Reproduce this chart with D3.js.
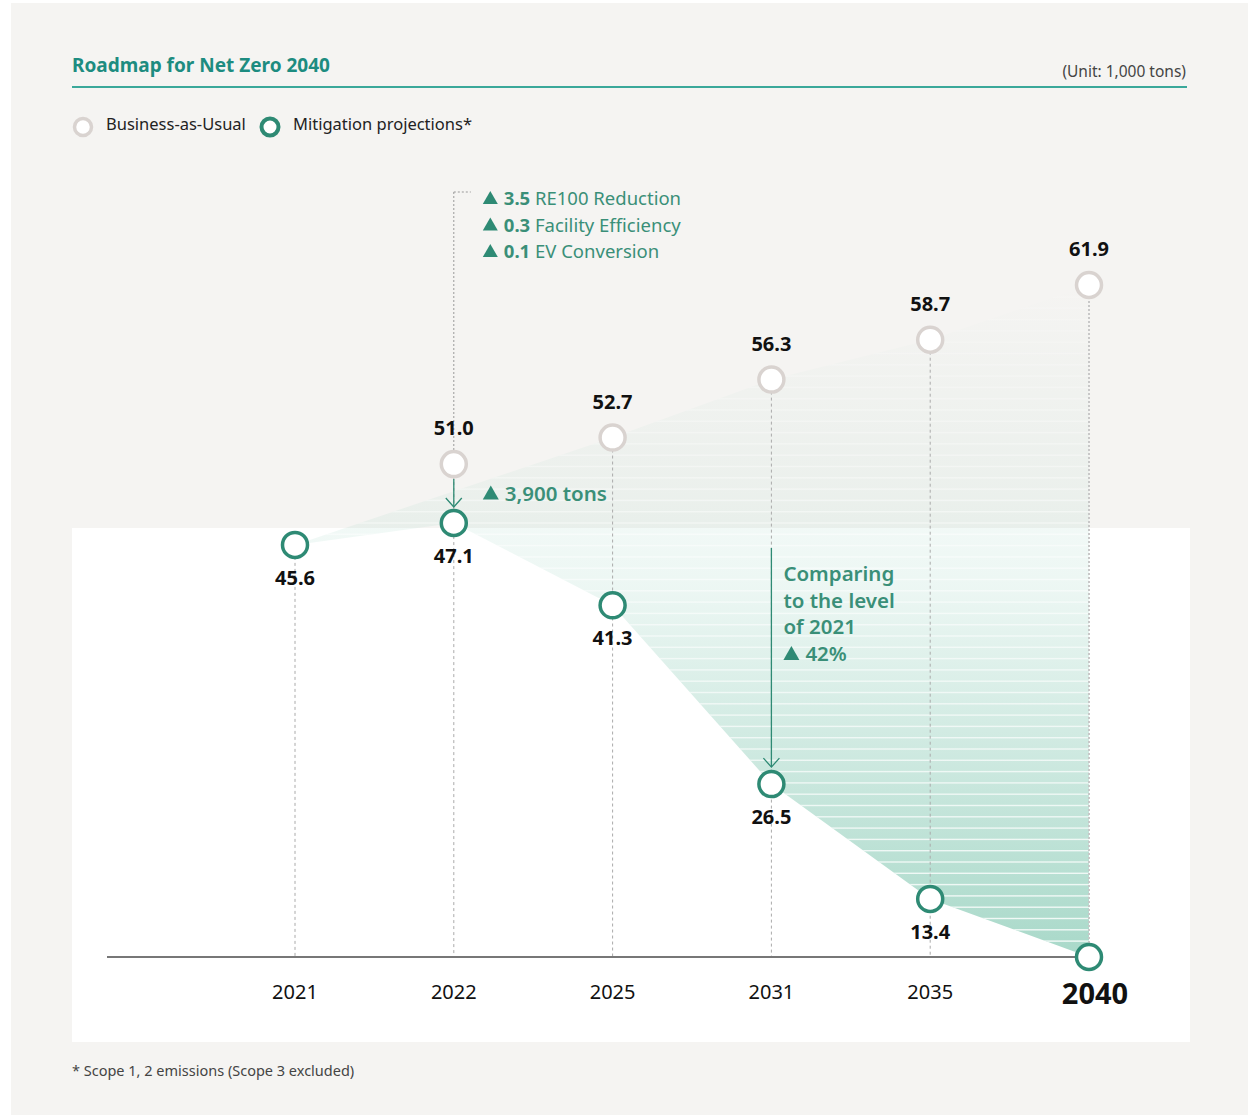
<!DOCTYPE html>
<html>
<head>
<meta charset="utf-8">
<title>Roadmap for Net Zero 2040</title>
<script src="https://d3js.org/d3.v7.min.js"></script>
<style>
    body { margin: 0; padding: 0; background: #ffffff; font-family: "Noto Sans", sans-serif; }
    svg { display: block; }
</style>
</head>
<body>
<div id="chart"></div>
<script>
    // data (unit: 1,000 tons)
    var years = [2021, 2022, 2025, 2031, 2035, 2040];
    var bau = [null, 51.0, 52.7, 56.3, 58.7, 61.9];
    var mitigation = [45.6, 47.1, 41.3, 26.5, 13.4, 0];
    var reductionValues = ["3.5", "0.3", "0.1"];
    var reductionLabels = ["RE100 Reduction", "Facility Efficiency", "EV Conversion"];
    var gapLabel = "3,900 tons";
    var compareLines = ["Comparing", "to the level", "of 2021"];
    var compareValue = "42%";

    var W = 1250, H = 1117;
    var teal = "#2e8a74", tealText = "#3a8f78", bauGrey = "#d9d3d0";
    var axisY = 957;

    var svg = d3.select("#chart").append("svg")
        .attr("width", W)
        .attr("height", H)
        .style("font-family", "'Noto Sans', sans-serif");

    // backgrounds
    svg.append("rect").attr("x", 11).attr("y", 3).attr("width", 1237).attr("height", 1112).attr("fill", "#f5f4f2");
    svg.append("rect").attr("x", 72).attr("y", 528).attr("width", 1118).attr("height", 514).attr("fill", "#ffffff");

    // title + unit
    svg.append("text").attr("x", 72).attr("y", 72)
        .attr("font-size", 19).attr("font-weight", 700).attr("fill", "#1d8c80")
        .text("Roadmap for Net Zero 2040");
    svg.append("text").attr("x", 1186).attr("y", 77).attr("text-anchor", "end")
        .attr("font-size", 15.5).attr("fill", "#444")
        .text("(Unit: 1,000 tons)");
    svg.append("line").attr("x1", 72).attr("x2", 1187).attr("y1", 87).attr("y2", 87)
        .attr("stroke", "#3aa89a").attr("stroke-width", 2);

    // legend
    var legend = [
        { label: "Business-as-Usual", color: bauGrey, x: 83, sw: 3.5 },
        { label: "Mitigation projections*", color: teal, x: 270, sw: 4 }
    ];
    legend.forEach(function (d) {
        svg.append("circle").attr("cx", d.x).attr("cy", 127).attr("r", 8.5)
            .attr("fill", "#fff").attr("stroke", d.color).attr("stroke-width", d.sw);
        svg.append("text").attr("x", d.x + 23).attr("y", 130)
            .attr("font-size", 16.5).attr("fill", "#222").text(d.label);
    });

    // scales (the original is an illustrative, non-linear layout)
    var x = d3.scalePoint().domain(years).range([295, 1089]);
    var y = d3.scalePow().exponent(1.6)
        .domain([0, d3.max(bau)])
        .range([axisY, 285]);

    var rows = years.map(function (yr, i) { return { year: yr, bau: bau[i], mit: mitigation[i] }; });

    // shaded gap between BAU and mitigation
    var topEdge = rows.filter(function (d, i) { return i === 0 || i > 1; })
        .map(function (d, i) { return { year: d.year, v: i === 0 ? d.mit : d.bau }; });
    var areaPts = topEdge.map(function (d) { return [x(d.year), y(d.v)]; })
        .concat(rows.slice().reverse().map(function (d) { return [x(d.year), y(d.mit)]; }));

    var defs = svg.append("defs");
    var grad = defs.append("linearGradient").attr("id", "gapFill")
        .attr("gradientUnits", "userSpaceOnUse")
        .attr("x1", 0).attr("x2", 0).attr("y1", y(d3.max(bau))).attr("y2", axisY);
    grad.append("stop").attr("offset", "0%").attr("stop-color", "#6fbfa5").attr("stop-opacity", 0);
    grad.append("stop").attr("offset", "30%").attr("stop-color", "#6fbfa5").attr("stop-opacity", 0.07);
    grad.append("stop").attr("offset", "45%").attr("stop-color", "#6fbfa5").attr("stop-opacity", 0.13);
    grad.append("stop").attr("offset", "100%").attr("stop-color", "#6fbfa5").attr("stop-opacity", 0.6);

    var stripeGrad = defs.append("linearGradient").attr("id", "stripeFill")
        .attr("gradientUnits", "userSpaceOnUse")
        .attr("x1", 0).attr("x2", 0).attr("y1", y(d3.max(bau))).attr("y2", axisY);
    stripeGrad.append("stop").attr("offset", "0%").attr("stop-color", "#fff").attr("stop-opacity", 0.1);
    stripeGrad.append("stop").attr("offset", "40%").attr("stop-color", "#fff").attr("stop-opacity", 0.5);
    stripeGrad.append("stop").attr("offset", "100%").attr("stop-color", "#fff").attr("stop-opacity", 0.85);

    defs.append("clipPath").attr("id", "gapClip")
        .append("path").attr("d", d3.line()(areaPts) + "Z");

    svg.append("path").attr("d", d3.line()(areaPts) + "Z").attr("fill", "url(#gapFill)");

    svg.append("g").attr("clip-path", "url(#gapClip)")
        .selectAll("rect")
        .data(d3.range(y(d3.max(bau)), axisY, 11.3))
        .enter().append("rect")
        .attr("x", x(years[0])).attr("width", x(years[years.length - 1]) - x(years[0]))
        .attr("y", function (d) { return d; }).attr("height", 1.4)
        .attr("fill", "url(#stripeFill)");

    // vertical guide lines
    svg.selectAll(".guide").data(rows).enter().append("line")
        .attr("class", "guide")
        .attr("x1", function (d) { return x(d.year); })
        .attr("x2", function (d) { return x(d.year); })
        .attr("y1", function (d) { return y(d.bau !== null ? d.bau : d.mit); })
        .attr("y2", axisY)
        .attr("stroke", function (d, i) { return i === rows.length - 1 ? "#c8c8c8" : "#aaa"; })
        .attr("stroke-width", function (d, i) { return i === rows.length - 1 ? 2 : 1; })
        .attr("stroke-dasharray", function (d, i) { return i === rows.length - 1 ? "2,2" : "3,3"; });

    // axis
    svg.append("line").attr("x1", 107).attr("x2", x(2040)).attr("y1", axisY).attr("y2", axisY)
        .attr("stroke", "#777").attr("stroke-width", 2);
    svg.selectAll(".tick").data(years).enter().append("text")
        .attr("class", "tick")
        .attr("x", function (d, i) { return i === years.length - 1 ? x(d) + 6 : x(d); })
        .attr("y", function (d, i) { return i === years.length - 1 ? 1004 : 999; })
        .attr("text-anchor", "middle")
        .attr("font-size", function (d, i) { return i === years.length - 1 ? 29 : 20; })
        .attr("font-weight", function (d, i) { return i === years.length - 1 ? 700 : 400; })
        .attr("fill", "#111")
        .text(function (d) { return d; });

    // filled triangle marker, text goes after it
    function triangle(tx, baseline, w) {
        var h = w * 0.87;
        svg.append("path")
            .attr("d", "M" + tx + "," + (baseline - 1) + "L" + (tx + w) + "," + (baseline - 1) +
                "L" + (tx + w / 2) + "," + (baseline - 1 - h) + "Z")
            .attr("fill", teal);
        return tx + w + 6;
    }

    // 2022 breakdown bracket
    var x22 = x(2022);
    svg.append("line").attr("x1", x22).attr("x2", x22).attr("y1", 192).attr("y2", y(51.0) - 13)
        .attr("stroke", "#999").attr("stroke-width", 1).attr("stroke-dasharray", "2,2");
    svg.append("line").attr("x1", x22).attr("x2", x22 + 17).attr("y1", 192).attr("y2", 192)
        .attr("stroke", "#999").attr("stroke-width", 1).attr("stroke-dasharray", "2,2");
    reductionValues.forEach(function (v, i) {
        var base = 205 + i * 26.5;
        var tx = triangle(x22 + 29, base, 15);
        var t = svg.append("text").attr("x", tx).attr("y", base)
            .attr("font-size", 18.5).attr("fill", tealText);
        t.append("tspan").attr("font-weight", 700).text(v);
        t.append("tspan").text(" " + reductionLabels[i]);
    });

    function arrow(x0, yStart, yEnd) {
        svg.append("line").attr("x1", x0).attr("x2", x0).attr("y1", yStart).attr("y2", yEnd)
            .attr("stroke", teal).attr("stroke-width", 1.3);
        svg.append("path")
            .attr("d", "M" + (x0 - 8) + "," + (yEnd - 9) + "L" + x0 + "," + yEnd + "L" + (x0 + 8) + "," + (yEnd - 9))
            .attr("fill", "none").attr("stroke", teal).attr("stroke-width", 1.3);
    }

    // BAU -> mitigation gap in 2022
    arrow(x22, y(51.0) + 15, y(47.1) - 16);
    var gBase = (y(51.0) + y(47.1)) / 2 + 7;
    svg.append("text").attr("x", triangle(x22 + 29, gBase, 16)).attr("y", gBase)
        .attr("font-size", 20.5).attr("font-weight", 600).attr("fill", tealText)
        .text(gapLabel);

    // comparison with 2021 at 2031
    var x31 = x(2031);
    arrow(x31, 548, y(26.5) - 17);
    compareLines.forEach(function (line, i) {
        svg.append("text").attr("x", x31 + 12).attr("y", 581 + i * 26.7)
            .attr("font-size", 20.5).attr("font-weight", 600).attr("fill", tealText).text(line);
    });
    svg.append("text").attr("x", triangle(x31 + 12, 661, 16)).attr("y", 661)
        .attr("font-size", 20.5).attr("font-weight", 600).attr("fill", tealText)
        .text(compareValue);

    // circles
    var bauRows = rows.filter(function (d) { return d.bau !== null; });
    svg.selectAll(".bau").data(bauRows).enter().append("circle")
        .attr("class", "bau")
        .attr("cx", function (d) { return x(d.year); })
        .attr("cy", function (d) { return y(d.bau); })
        .attr("r", 12.5).attr("fill", "#fff").attr("stroke", bauGrey).attr("stroke-width", 3.5);
    svg.selectAll(".mit").data(rows).enter().append("circle")
        .attr("class", "mit")
        .attr("cx", function (d) { return x(d.year); })
        .attr("cy", function (d) { return y(d.mit); })
        .attr("r", 12.5).attr("fill", "#fff").attr("stroke", teal).attr("stroke-width", 3.5);

    // value labels
    svg.selectAll(".bauLabel").data(bauRows).enter().append("text")
        .attr("class", "bauLabel")
        .attr("x", function (d) { return x(d.year); })
        .attr("y", function (d) { return y(d.bau) - 29; })
        .attr("text-anchor", "middle").attr("font-size", 20).attr("font-weight", 700).attr("fill", "#111")
        .text(function (d) { return d.bau.toFixed(1); });
    svg.selectAll(".mitLabel").data(rows.filter(function (d) { return d.mit > 0; })).enter().append("text")
        .attr("class", "mitLabel")
        .attr("x", function (d) { return x(d.year); })
        .attr("y", function (d) { return y(d.mit) + 40; })
        .attr("text-anchor", "middle").attr("font-size", 20).attr("font-weight", 700).attr("fill", "#111")
        .text(function (d) { return d.mit.toFixed(1); });

    // footnote
    svg.append("text").attr("x", 72).attr("y", 1076)
        .attr("font-size", 14.5).attr("fill", "#444")
        .text("* Scope 1, 2 emissions (Scope 3 excluded)");
</script>
</body>
</html>
